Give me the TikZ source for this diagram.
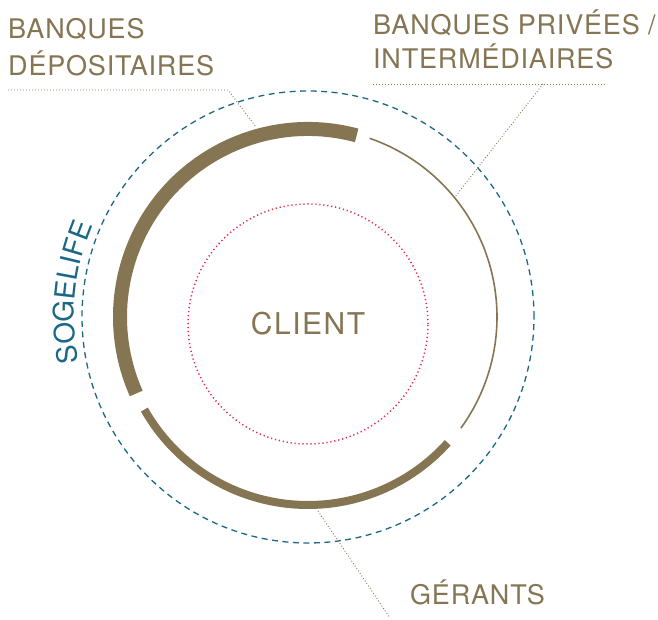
\documentclass[tikz,border=0pt]{standalone}
\usepackage{fontspec}
\setmainfont{TeX Gyre Heros}
\newfontfamily\lblfont[LetterSpace=3]{TeX Gyre Heros}
\newfontfamily\clifont[LetterSpace=5]{TeX Gyre Heros}
\usetikzlibrary{decorations.text}
\definecolor{tan}{RGB}{133,117,82}
\definecolor{sogeblue}{RGB}{26,104,134}
\definecolor{clientred}{RGB}{232,40,80}
\begin{document}
\begin{tikzpicture}[x=1pt,y=1pt,
  lbl/.style={inner sep=0pt, anchor=base west, text=tan, font=\lblfont\fontsize{27}{27}\selectfont},
  leader/.style={draw=tan, line width=0.9pt, dash pattern=on 0.9pt off 2.1pt},
  ring/.style={draw=tan},
  outerring/.style={draw=sogeblue, line width=1.3pt, dash pattern=on 6pt off 4.5pt},
  innerring/.style={draw=clientred, line width=1.5pt, dash pattern=on 1.2pt off 2.8pt}]
\useasboundingbox (0,0) rectangle (658,620);
\coordinate (C) at (308,303);
\coordinate (R) at (308,296);
% circles
\draw[outerring] (C) circle[radius=226];
\draw[innerring] (R) circle[radius=120];
% arcs
\draw[ring, line width=14pt] (C) ++(75:188) arc[start angle=75, end angle=204, radius=188];
\draw[ring, line width=1.6pt] (C) ++(71:189) arc[start angle=71, end angle=-36, radius=189];
\draw[ring, line width=8pt] (C) ++(-42:188) arc[start angle=-42, end angle=-150.5, radius=188];
% labels
\node[lbl] (bq1) at (8,581) {BANQUES};
\node[lbl] (bq2) at (8,544) {DÉPOSITAIRES};
\node[lbl] (bp1) at (373,585) {BANQUES PRIVÉES /};
\node[lbl] (bp2) at (373,551) {INTERMÉDIAIRES};
\node[lbl] (ger) at (410,15) {GÉRANTS};
\node[inner sep=0pt, anchor=base, text=tan, font=\clifont\fontsize{30}{30}\selectfont] (cli) at (308,285) {CLIENT};
% SOGELIFE along the arc
\path[decorate, decoration={text along path, text align=center,
  text={|\color{sogeblue}\clifont\fontsize{28}{28}\selectfont|SOGELIFE}}]
  (C) ++(198:234) arc[start angle=198, end angle=150, radius=234];
% leader lines
\coordinate (l1a) at (8,530);
\coordinate (l1b) at (228,530);
\coordinate (l1c) at (256,493);
\draw[leader] (l1a) -- (l1b) -- (l1c);
\coordinate (l2a) at (373,536);
\coordinate (l2b) at (607,536);
\coordinate (l2c) at (543,536);
\coordinate (l2d) at (455,423);
\draw[leader] (l2a) -- (l2b);
\draw[leader] (l2c) -- (l2d);
\coordinate (l3a) at (318,109);
\coordinate (l3b) at (390,2);
\draw[leader] (l3a) -- (l3b);
\end{tikzpicture}
\end{document}
